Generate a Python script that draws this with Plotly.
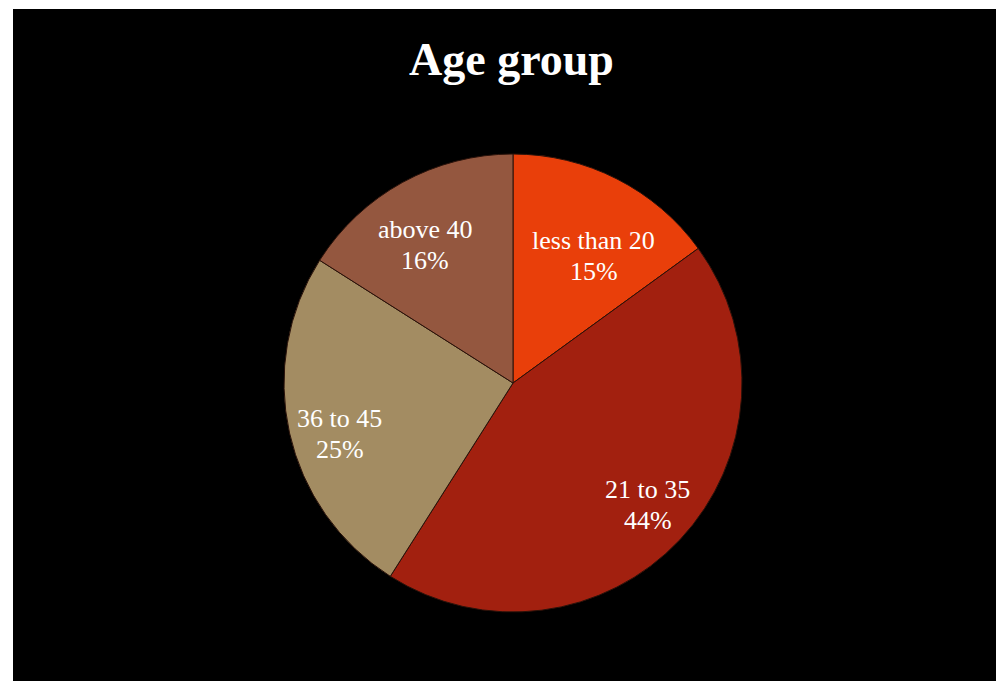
import math
import plotly.graph_objects as go

categories = ["less than 20", "21 to 35", "36 to 45", "above 40"]
values = [15, 44, 25, 16]
colors = ["#E93F0A", "#A2200F", "#A38C62", "#94573F"]

# label placement (layout only): share of the radius and angular nudge in degrees
label_radius_frac = [0.655, 0.792, 0.790, 0.713]
label_angle_nudge = [5.5, -1.1, -3.9, -3.8]

W, H = 996, 681
ml, mt = 13, 9
pw, ph = W - ml, H - mt
cx_px, cy_px, r_px = 500, 374, 229  # pie centre / radius inside the plot area (pixels)
line_gap = 31

dom_x = [(cx_px - r_px) / pw, (cx_px + r_px) / pw]
dom_y = [1 - (cy_px + r_px) / ph, 1 - (cy_px - r_px) / ph]

fig = go.Figure(go.Pie(
    labels=categories,
    values=values,
    sort=False,
    direction="clockwise",
    rotation=0,
    marker=dict(colors=colors, line=dict(color="#2a120a", width=1)),
    textinfo="none",
    domain=dict(x=dom_x, y=dom_y),
    showlegend=False,
    hoverinfo="label+percent",
))

total = sum(values)
annotations = []
cum = 0
font = dict(family="Liberation Serif", size=26, color="white")
for lab, v, fr, nd in zip(categories, values, label_radius_frac, label_angle_nudge):
    mid = (cum + v / 2) / total * 2 * math.pi + math.radians(nd)
    cum += v
    dx = math.sin(mid) * r_px * fr
    dy = -math.cos(mid) * r_px * fr
    ax, ay = (cx_px + dx) / pw, 1 - (cy_px + dy) / ph
    for txt, ys in ((lab, line_gap / 2), (f"{round(v / total * 100)}%", -line_gap / 2)):
        annotations.append(dict(
            x=ax, y=ay, xref="paper", yref="paper", yshift=ys,
            text=txt, showarrow=False, font=font,
            xanchor="center", yanchor="middle", align="center",
        ))

fig.update_layout(
    width=W, height=H,
    paper_bgcolor="white",
    margin=dict(l=ml, r=0, t=mt, b=0),
    shapes=[dict(type="rect", xref="paper", yref="paper", x0=0, x1=1, y0=0, y1=1,
                 fillcolor="black", line=dict(width=0), layer="below")],
    annotations=annotations,
    title=dict(text="<b>Age group</b>", x=511.5 / W, xanchor="center",
               y=1 - 58.5 / H, yanchor="middle",
               font=dict(family="Liberation Serif", size=46, color="white")),
)

fig.write_html(
    "out.html",
    default_width="996px",
    default_height="681px",
    config={"displayModeBar": False},
    post_script=(
        "document.body.style.margin='0';"
        "document.body.style.overflow='hidden';"
        "document.documentElement.style.overflow='hidden';"
    ),
)
